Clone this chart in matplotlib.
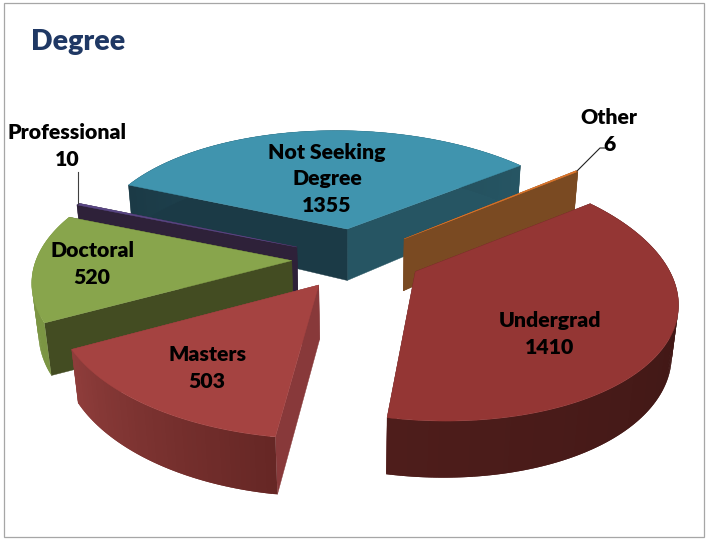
import matplotlib
matplotlib.use("Agg")
import matplotlib.pyplot as plt
import numpy as np
from matplotlib.colors import to_rgb
from matplotlib.patches import Rectangle

# Data, clockwise from the right hand slice
categories = ["Undergrad", "Masters", "Doctoral", "Professional", "Not Seeking\nDegree", "Other"]
degree_counts = [1410, 503, 520, 10, 1355, 6]

# Per slice placement of the exploded pie: offset x, offset y, turn, spread, radius
slice_x = [0.230, -0.161, -0.258, -0.241, -0.027, 0.194]
slice_y = [-0.144, -0.269, -0.109, -0.004, 0.171, 0.085]
slice_turn = [-0.011, 0.006, 0.067, 0.075, 0.003, -0.084]
slice_spread = [1.016, 1.096, 1.000, 0.983, 0.932, 0.990]
slice_radius = [0.991, 0.970, 0.996, 1.007, 1.043, 1.092]
# small pixel nudges of the inner corner, the chart's perspective isn't quite a true one
apex_dx = [-1, 3, 0, 0, -2.7, 0]
apex_dy = [5, 4.5, 1, 0, 1, 0]

top_colors = ["#943634", "#A54341", "#88A54C", "#5A4786", "#4094AE", "#E0762A"]
t0_side_colors = ["#5A2020", "#88393A", "#434C22", "#2E2139", "#1B3A46", "#7A4A22"]
t1_side_colors = ["#5A2020", "#88393A", "#434C22", "#2E2139", "#265563", "#7A4A22"]
wall_start_colors = ["#381412", "#662725", "#7B9543", "#2E2139", "#1B3A46", "#7A4A22"]
wall_end_colors = ["#4E1D1B", "#8F3D3B", "#7B9543", "#2E2139", "#265563", "#7A4A22"]
draw_order = [4, 5, 3, 2, 1, 0]

# Camera
cx, cy, a, b, k = 356.9, 247.8, 249.0, 118.6, 0.19
sx, sy = -3.86, -5.22
start_angle = 0.959
depth, bottom_shrink = 49.0, 0.02
apex_extra_depth = 4.5


def project(px, py, bottom=False):
    w = 1 + k * py + (bottom_shrink if bottom else 0)
    x = cx + (a * px + sx * py) / w
    y = cy - (b * py + sy * px) / w
    if bottom:
        y = y + depth / w
    return x, y


def draw_slice(ax, i, t0, t1):
    ox, oy, r = slice_x[i], slice_y[i], slice_radius[i]
    t = np.linspace(t0, t1, max(int((t1 - t0) * 60), 2) + 1)
    px, py = ox + r * np.sin(t), oy + r * np.cos(t)
    top_x, top_y = project(px, py)
    bot_x, bot_y = project(px, py, bottom=True)
    ax_, ay_ = project(ox, oy)
    bx_, by_ = project(ox, oy, bottom=True)
    ax_, ay_ = ax_ + apex_dx[i], ay_ + apex_dy[i]
    bx_, by_ = bx_ + apex_dx[i], by_ + apex_dy[i] + apex_extra_depth

    # sides, the far one first
    ax.fill([ax_, top_x[-1], bot_x[-1], bx_], [ay_, top_y[-1], bot_y[-1], by_], color=t1_side_colors[i], lw=0.3)
    ax.fill([ax_, top_x[0], bot_x[0], bx_], [ay_, top_y[0], bot_y[0], by_], color=t0_side_colors[i], lw=0.3)

    # outer wall in strips for the shading, each one runs under the next so no seams show
    c0, c1 = np.array(to_rgb(wall_start_colors[i])), np.array(to_rgb(wall_end_colors[i]))
    for n in range(len(t) - 1):
        f = n / max(len(t) - 2, 1)
        m = len(t) - 1 if n == len(t) - 2 else n + 2
        xs = np.r_[top_x[n:m + 1], bot_x[n:m + 1][::-1]]
        ys = np.r_[top_y[n:m + 1], bot_y[n:m + 1][::-1]]
        ax.fill(xs, ys, color=c0 * (1 - f) + c1 * f, lw=0)

    ax.fill(np.r_[ax_, top_x], np.r_[ay_, top_y], color=top_colors[i], lw=0.3)


fig = plt.figure(figsize=(7.06, 5.39), dpi=100)
ax = fig.add_axes([0, 0, 1, 1])
ax.set_xlim(0, 706)
ax.set_ylim(539, 0)
ax.axis("off")
ax.add_patch(Rectangle((4, 3), 700, 534, fill=False, ec="#A6A6A6", lw=0.9))

edges = np.cumsum([0] + degree_counts) / sum(degree_counts) * 2 * np.pi
for i in draw_order:
    mid = (edges[i] + edges[i + 1]) / 2 + start_angle + slice_turn[i]
    half = (edges[i + 1] - edges[i]) / 2 * slice_spread[i]
    draw_slice(ax, i, mid - half, mid + half)

# leader lines
ax.plot([78, 78], [204, 172], color="#404040", lw=0.8)
ax.plot([577, 600, 606], [171, 148, 148], color="#202020", lw=0.8)

ax.text(31, 42, "Degree", fontsize=20.5, fontweight="heavy", family="Lato", color="#1F3864", va="center", ha="left")

label_x = [550, 207, 92, 67, 327, 609]
label_y = [334, 368, 264, 146, 179, 131]
for name, val, x, y in zip(categories, degree_counts, label_x, label_y):
    ax.text(
        x, y, f"{name}\n{val}", fontsize=15.3, fontweight="heavy", family="Lato",
        color="black", ha="center", va="center", linespacing=1.5,
    )

fig.savefig("out.png", dpi=100)
